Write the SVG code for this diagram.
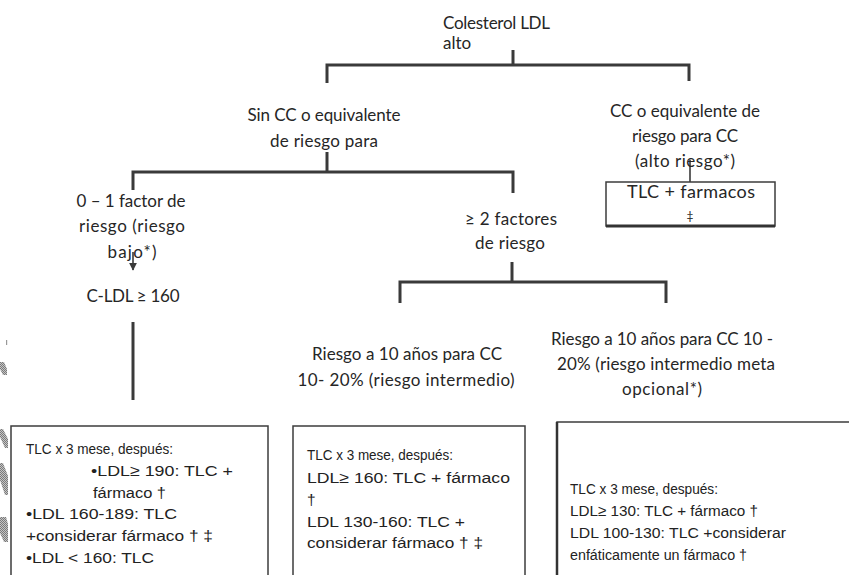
<svg xmlns="http://www.w3.org/2000/svg" width="849" height="575" viewBox="0 0 849 575">
  <style>
    .lbl { font-family: Lato, "Open Sans", "Liberation Sans", sans-serif; font-size: 17px; fill: #262626; text-anchor: middle; }
    .box-txt { font-family: "Liberation Sans", Arial, sans-serif; font-size: 15.5px; fill: #222; }
    .wire { fill: none; stroke: #3a3a3a; stroke-width: 3; }
    .thin { fill: none; stroke: #3a3a3a; stroke-width: 1.6; }
    .frame { fill: #fff; stroke: #3c3c3c; stroke-width: 1.5; }
    .smudge { fill: url(#hatch); }
  </style>
  <defs>
    <marker id="arrow" viewBox="0 0 10 10" refX="9" refY="5" markerWidth="5" markerHeight="5" orient="auto">
      <path d="M0,0 L10,5 L0,10 z" fill="#3a3a3a"/>
    </marker>
    <pattern id="hatch" width="2" height="2" patternUnits="userSpaceOnUse">
      <rect width="2" height="2" fill="#c4c4c4"/>
      <rect width="1" height="1" fill="#7a7a7a"/>
      <rect x="1" y="1" width="1" height="1" fill="#7a7a7a"/>
    </pattern>
  </defs>

  <rect width="849" height="575" fill="#fff"/>

  <!-- grey edge marks on the left margin -->
  <g id="edge-marks">
    <polygon class="smudge" points="0,362 4,362 7,369 7,375 3,375 0,369"/>
    <polygon class="smudge" points="0,429 3,429 8,439 8,448 5,448 0,437"/>
    <polygon class="smudge" points="0,463 3,463 8,476 8,495 5,495 0,480"/>
    <polygon class="smudge" points="0,517 6,517 8,524 8,542 4,542 0,533"/>
    <rect x="6" y="340" width="1.2" height="5" fill="#999"/>
  </g>

  <!-- connectors -->
  <g id="connectors">
    <path class="wire" d="M513,50 V65"/>
    <path class="wire" d="M327,83 V65 H689 V81"/>
    <path class="wire" d="M327,152 V172"/>
    <path class="wire" d="M133,190 V172 H513 V193"/>
    <path class="thin" d="M133,252 V270" marker-end="url(#arrow)"/>
    <path class="wire" d="M133,322 V400"/>
    <path class="wire" d="M512,262 V282"/>
    <path class="wire" d="M400,303 V282 H666 V303"/>
    <path class="thin" d="M690,160 V182"/>
  </g>

  <g id="root">
    <text class="lbl" x="443" y="29" style="text-anchor:start" textLength="107">Colesterol LDL</text>
    <text class="lbl" x="443" y="49" style="text-anchor:start">alto</text>
  </g>

  <g id="no-cc">
    <text class="lbl" x="324" y="121" textLength="153">Sin CC o equivalente</text>
    <text class="lbl" x="324" y="147" textLength="108">de riesgo para</text>
  </g>

  <g id="cc">
    <text class="lbl" x="685" y="117" textLength="150">CC o equivalente de</text>
    <text class="lbl" x="685" y="142" textLength="106">riesgo para CC</text>
    <text class="lbl" x="685" y="167" textLength="100">(alto riesgo*)</text>
  </g>

  <g id="cc-treatment">
    <rect class="frame" x="606" y="182" width="169" height="44"/>
    <line x1="606" y1="226" x2="775" y2="226" stroke="#333" stroke-width="3"/>
    <text class="lbl" x="691" y="198" style="font-size:18px" textLength="128">TLC + farmacos</text>
    <text class="lbl" x="690" y="220" style="font-size:12px">‡</text>
  </g>

  <g id="low-risk">
    <text class="lbl" x="131" y="207" textLength="109">0 – 1 factor de</text>
    <text class="lbl" x="132" y="232" textLength="106">riesgo (riesgo</text>
    <text class="lbl" x="132" y="258" textLength="49">bajo*)</text>
  </g>

  <g id="ldl-160">
    <text class="lbl" x="133" y="302" textLength="93">C-LDL ≥ 160</text>
  </g>

  <g id="multi-risk">
    <text class="lbl" x="511" y="225" textLength="92">≥ 2 factores</text>
    <text class="lbl" x="510" y="249" textLength="70">de riesgo</text>
  </g>

  <g id="intermediate">
    <text class="lbl" x="407" y="360" textLength="190">Riesgo a 10 años para CC</text>
    <text class="lbl" x="406" y="386" textLength="217">10- 20% (riesgo intermedio)</text>
  </g>

  <g id="intermediate-optional">
    <text class="lbl" x="662" y="345" textLength="222">Riesgo a 10 años para CC 10 -</text>
    <text class="lbl" x="666" y="370" textLength="218">20% (riesgo intermedio  meta</text>
    <text class="lbl" x="662" y="395" textLength="80">opcional*)</text>
  </g>

  <g id="plan-low">
    <rect class="frame" x="11" y="426" width="257" height="160"/>
    <text class="box-txt" x="26" y="454" textLength="147" lengthAdjust="spacingAndGlyphs">TLC x 3 mese, después:</text>
    <text class="box-txt" x="91" y="476" textLength="142" lengthAdjust="spacingAndGlyphs">•LDL≥ 190: TLC +</text>
    <text class="box-txt" x="93" y="498" textLength="73" lengthAdjust="spacingAndGlyphs">fármaco †</text>
    <text class="box-txt" x="26" y="519" textLength="151" lengthAdjust="spacingAndGlyphs">•LDL 160-189: TLC</text>
    <text class="box-txt" x="26" y="541" textLength="187" lengthAdjust="spacingAndGlyphs">+considerar fármaco † ‡</text>
    <text class="box-txt" x="26" y="563" textLength="128" lengthAdjust="spacingAndGlyphs">•LDL &lt; 160: TLC</text>
  </g>

  <g id="plan-intermediate">
    <rect class="frame" x="293" y="426" width="232" height="160"/>
    <text class="box-txt" x="307" y="460" textLength="146" lengthAdjust="spacingAndGlyphs">TLC x 3 mese, después:</text>
    <text class="box-txt" x="307" y="483" textLength="203" lengthAdjust="spacingAndGlyphs">LDL≥ 160: TLC + fármaco</text>
    <text class="box-txt" x="307" y="505">†</text>
    <text class="box-txt" x="307" y="527" textLength="158" lengthAdjust="spacingAndGlyphs">LDL 130-160: TLC +</text>
    <text class="box-txt" x="307" y="548" textLength="176" lengthAdjust="spacingAndGlyphs">considerar fármaco † ‡</text>
  </g>

  <g id="plan-optional">
    <rect class="frame" x="557" y="422" width="300" height="170"/>
    <line x1="557" y1="422" x2="557" y2="575" stroke="#333" stroke-width="2.5"/>
    <text class="box-txt" x="570" y="494" textLength="148" lengthAdjust="spacingAndGlyphs">TLC x 3 mese, después:</text>
    <text class="box-txt" x="570" y="516" textLength="188" lengthAdjust="spacingAndGlyphs">LDL≥ 130: TLC + fármaco †</text>
    <text class="box-txt" x="570" y="538" textLength="216" lengthAdjust="spacingAndGlyphs">LDL 100-130: TLC +considerar</text>
    <text class="box-txt" x="570" y="560" textLength="177" lengthAdjust="spacingAndGlyphs">enfáticamente  un fármaco †</text>
  </g>
</svg>
